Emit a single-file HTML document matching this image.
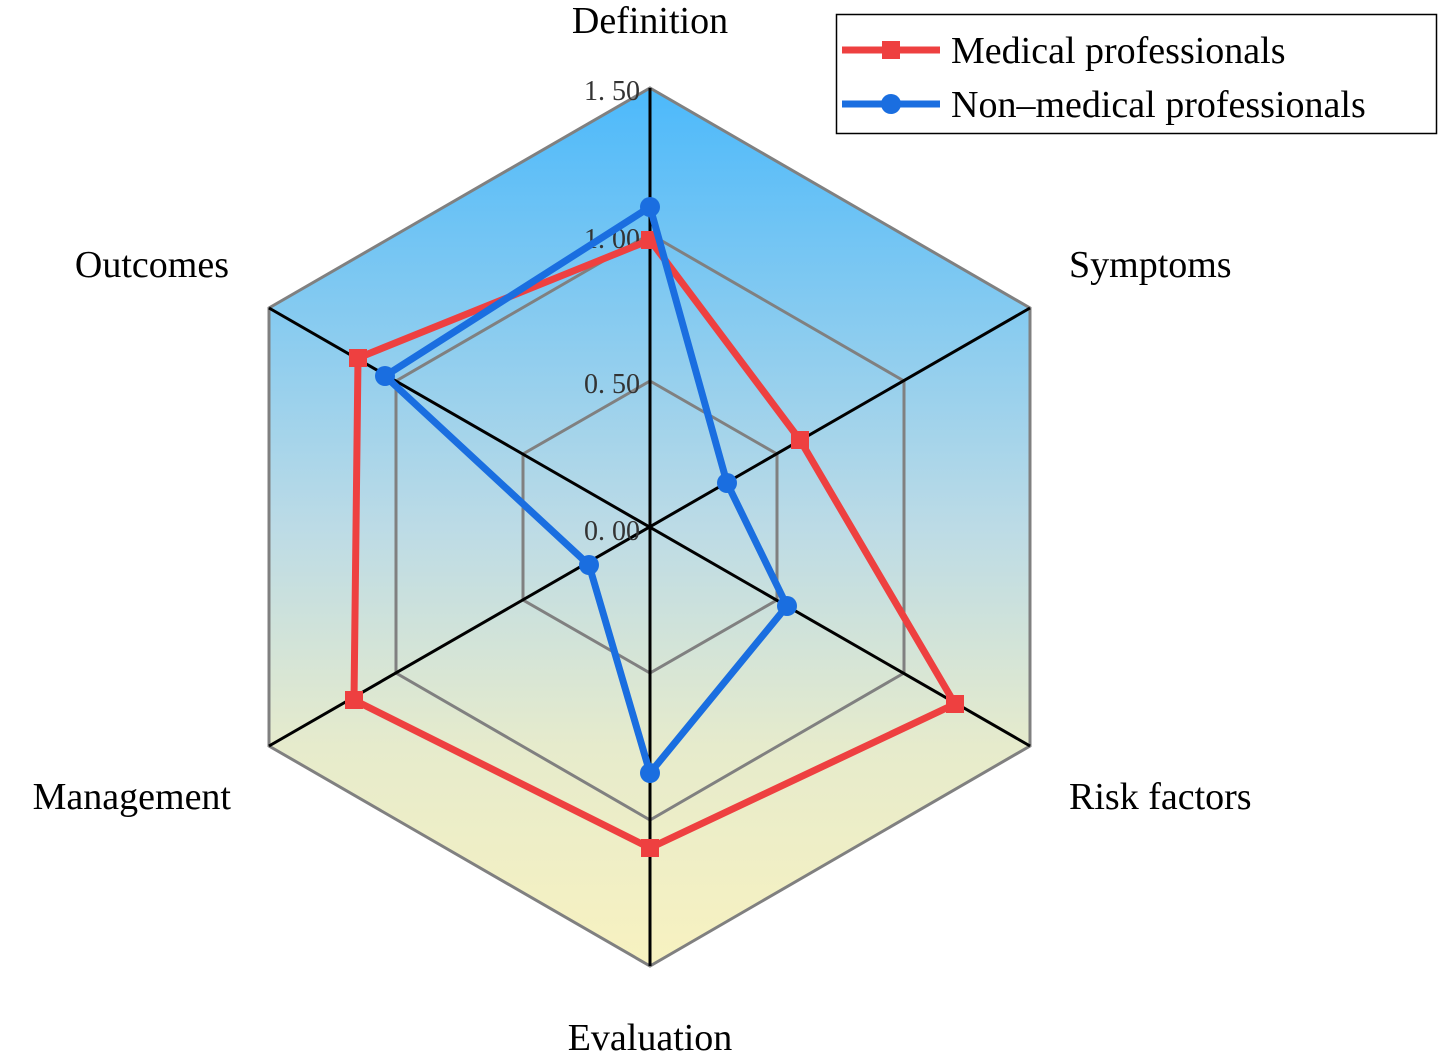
<!DOCTYPE html>
<html><head><meta charset="utf-8"><style>html,body{margin:0;padding:0;background:#fff}svg{display:block}</style></head>
<body>
<svg width="1441" height="1056" viewBox="0 0 1441 1056" xmlns="http://www.w3.org/2000/svg">
<defs>
<linearGradient id="g" x1="0" y1="88" x2="0" y2="966" gradientUnits="userSpaceOnUse">
<stop offset="0" stop-color="#4cb9fb"/>
<stop offset="0.5" stop-color="#bcdbe6"/>
<stop offset="0.75" stop-color="#e6ebcc"/>
<stop offset="1" stop-color="#f8f2c0"/>
</linearGradient>
</defs>
<polygon points="650,88 1030,308 1030,746 650,966 269,746 269,308" fill="url(#g)" stroke="#808080" stroke-width="3"/>
<polygon points="650,234 904,381 904,673 650,820 396,673 396,381" fill="none" stroke="#808080" stroke-width="3"/>
<polygon points="650,381 777,454 777,600 650,673 523,600 523,454" fill="none" stroke="#808080" stroke-width="3"/>
<g stroke="#000" stroke-width="3">
<line x1="650" y1="88" x2="650" y2="966"/>
<line x1="269" y1="308" x2="1030" y2="746"/>
<line x1="1030" y1="308" x2="269" y2="746"/>
</g>
<g font-family="Liberation Serif, serif" font-size="28" fill="#333" text-anchor="end">
<text x="640" y="100">1. 50</text>
<text x="640" y="248">1. 00</text>
<text x="640" y="393">0. 50</text>
<text x="640" y="540">0. 00</text>
</g>
<polygon points="650,240 800,440 955,704 650,848 354,700 358,358" fill="none" stroke="#ee4040" stroke-width="7" stroke-linejoin="round"/>
<g fill="#ee4040">
<rect x="641" y="231" width="18" height="18"/><rect x="791" y="431" width="18" height="18"/><rect x="946" y="695" width="18" height="18"/><rect x="641" y="839" width="18" height="18"/><rect x="345" y="691" width="18" height="18"/><rect x="349" y="349" width="18" height="18"/>
</g>
<polygon points="650,207 727,483 787,606 650,773 589,565 385,376" fill="none" stroke="#1a6ee0" stroke-width="7" stroke-linejoin="round"/>
<g fill="#1a6ee0">
<circle cx="650" cy="207" r="10"/><circle cx="727" cy="483" r="10"/><circle cx="787" cy="606" r="10"/><circle cx="650" cy="773" r="10"/><circle cx="589" cy="565" r="10"/><circle cx="385" cy="376" r="10"/>
</g>
<g font-family="Liberation Serif, serif" font-size="38" fill="#000">
<text x="650" y="33" text-anchor="middle">Definition</text>
<text x="1069" y="277">Symptoms</text>
<text x="1069" y="809">Risk factors</text>
<text x="650" y="1050" text-anchor="middle">Evaluation</text>
<text x="231" y="809" text-anchor="end">Management</text>
<text x="229" y="277" text-anchor="end">Outcomes</text>
</g>
<rect x="836.5" y="14.5" width="600" height="119" fill="#fff" stroke="#000" stroke-width="1.5"/>
<line x1="842" y1="50" x2="940" y2="50" stroke="#ee4040" stroke-width="7"/>
<rect x="882" y="41" width="18" height="18" fill="#ee4040"/>
<line x1="842" y1="104" x2="940" y2="104" stroke="#1a6ee0" stroke-width="7"/>
<circle cx="891" cy="104" r="10" fill="#1a6ee0"/>
<g font-family="Liberation Serif, serif" font-size="38" fill="#000">
<text x="951" y="63">Medical professionals</text>
<text x="951" y="117">Non–medical professionals</text>
</g>
</svg>
</body></html>
